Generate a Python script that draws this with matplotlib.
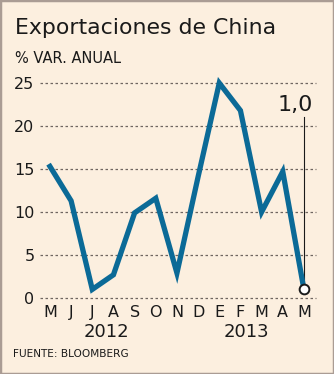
import matplotlib.pyplot as plt
from matplotlib.patches import Rectangle

months = ["M", "J", "J", "A", "S", "O", "N", "D", "E", "F", "M", "A", "M"]
exports = [15.3, 11.3, 1.0, 2.7, 9.9, 11.6, 2.9, 14.1, 25.0, 21.8, 10.0, 14.7, 1.0]
years = ["2012", "2013"]
year_pos = [2.65, 9.3]
yticks = [0, 5, 10, 15, 20, 25]

BG = "#fcefdf"
BLUE = "#0b6a97"
INK = "#1a1a1a"

W, H = 334, 374
fig = plt.figure(figsize=(W / 100, H / 100), dpi=100, facecolor=BG)
fig.patches.append(Rectangle((0, 0), 1, 1, transform=fig.transFigure,
                             fill=False, edgecolor="#aa9c94", linewidth=2.5))

ax = fig.add_axes([40 / W, 1 - 298 / H, 276 / W, 215 / H])
ax.set_facecolor(BG)
x = list(range(len(exports)))
ax.plot(x, exports, color=BLUE, linewidth=3.8, solid_joinstyle="miter",
        clip_on=False, zorder=3)
ax.plot(x[-1], exports[-1], "o", markersize=7, markerfacecolor="white",
        markeredgecolor=INK, markeredgewidth=1.4, clip_on=False, zorder=4)

# callout for the last value
last = exports[-1]
ax.plot([x[-1], x[-1]], [last + 0.5, 21.0], color=INK, linewidth=0.8, zorder=2)
ax.text(x[-1] - 0.4, 21.3, f"{last:.1f}".replace(".", ","), fontsize=16,
        color=INK, ha="center", va="bottom")

ax.set_xlim(-0.47, 12.57)
ax.set_ylim(0, 25)
ax.set_yticks(yticks)
ax.set_xticks(x)
ax.set_xticklabels(months)
for y in yticks:
    ax.axhline(y, color="#6f6660", linewidth=0.9, linestyle=(0, (2, 2)),
               zorder=1, clip_on=False)
for s in ax.spines.values():
    s.set_visible(False)
ax.tick_params(length=0, labelsize=11.5, colors=INK)
ax.tick_params(axis="x", pad=5)
ax.tick_params(axis="y", pad=4)

for label, pos in zip(years, year_pos):
    ax.text(pos, -3.9, label, fontsize=13, color=INK, ha="center", va="center")

fig.text(15 / W, 1 - 34 / H, "Exportaciones de China", fontsize=15.8,
         color=INK, va="baseline")
fig.text(15 / W, 1 - 63 / H, "% VAR. ANUAL", fontsize=10.5, color=INK,
         va="baseline")
fig.text(13 / W, 1 - 357 / H, "FUENTE: BLOOMBERG", fontsize=7.6, color=INK,
         va="baseline")

fig.savefig("out.png", dpi=100, facecolor=BG)
